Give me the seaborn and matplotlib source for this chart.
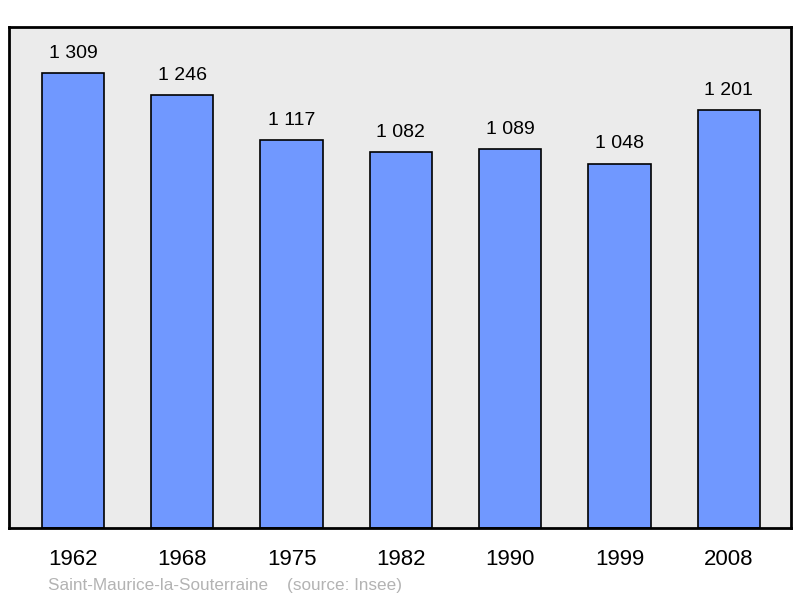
import matplotlib
matplotlib.use('Agg')
import matplotlib.pyplot as plt
import seaborn as sns
import pandas as pd

# Données
years = ['1962', '1968', '1975', '1982', '1990', '1999', '2008']
population = [1309, 1246, 1117, 1082, 1089, 1048, 1201]
value_labels = ['1 309', '1 246', '1 117', '1 082', '1 089', '1 048', '1 201']

sns.set_style('white')
plt.rcParams['font.family'] = ['Liberation Sans', 'DejaVu Sans']
plt.rcParams['text.color'] = 'black'
plt.rcParams['xtick.color'] = 'black'

df = pd.DataFrame({'year': years, 'pop': population})

fig = plt.figure(figsize=(8, 5.98), dpi=100)
ax = fig.add_axes([0.01125, 0.1171, 0.9775, 0.8378])
ax.set_facecolor('#ebebeb')

sns.barplot(data=df, x='year', y='pop', ax=ax, color='#7098ff', saturation=1,
            width=0.57, edgecolor='black', linewidth=1.2)

for i, (v, lab) in enumerate(zip(population, value_labels)):
    ax.annotate(lab, (i, v), xytext=(0, 8), textcoords='offset points',
                ha='center', va='bottom', fontsize=14, color='black')

ax.set_xlim(-0.585, 6.57)
ax.set_ylim(0, 1441)
ax.set_yticks([])
ax.set_xlabel('')
ax.set_ylabel('')
ax.tick_params(axis='x', length=0, labelsize=16, pad=15, labelcolor='black')
for s in ax.spines.values():
    s.set_linewidth(2)
    s.set_color('black')

fig.text(0.06, 0.013, 'Saint-Maurice-la-Souterraine    (source: Insee)',
         color='#b3b3b3', fontsize=12.3, ha='left', va='baseline')

plt.savefig('out.png', dpi=100)
